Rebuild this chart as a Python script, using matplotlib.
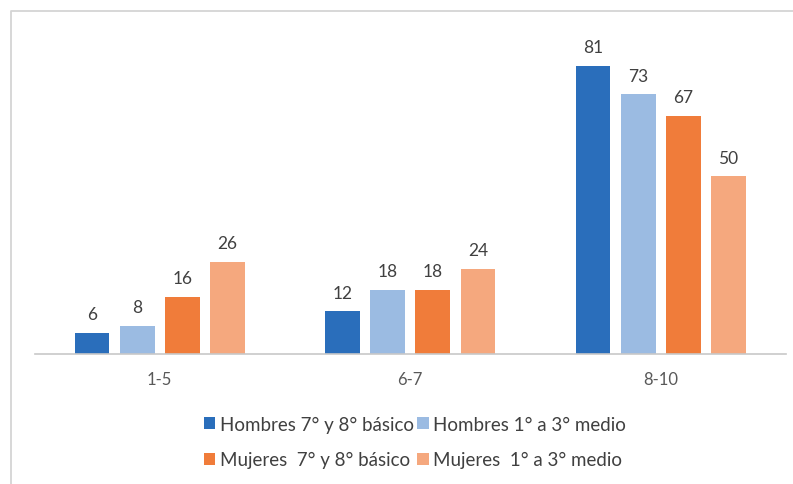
import matplotlib.pyplot as plt
import matplotlib.lines as mlines
import numpy as np

plt.rcParams['font.family'] = ['Lato', 'DejaVu Sans']

categories = ['1-5', '6-7', '8-10']
series = ['Hombres 7° y 8° básico', 'Hombres 1° a 3° medio',
          'Mujeres  7° y 8° básico', 'Mujeres  1° a 3° medio']
values = [
    [6, 12, 81],
    [8, 18, 73],
    [16, 18, 67],
    [26, 24, 50],
]
colors = ['#2a6ebb', '#9bbbe2', '#f07c3a', '#f5a87e']

fig = plt.figure(figsize=(7.93, 4.85), dpi=100)
# only the left and top edges of the chart frame are visible
fig.lines.append(mlines.Line2D([11 / 793, 11 / 793, 1], [0, 1 - 12 / 485, 1 - 12 / 485],
                               transform=fig.transFigure, color='#d4d4d4', linewidth=1.3))
ax = fig.add_axes([34.5 / 793, 130 / 485, 751.5 / 793, 320 / 485])

x = np.arange(len(categories))
pitch = 0.1805
width = 0.139
handles = []
for i, (name, vals, c) in enumerate(zip(series, values, colors)):
    pos = x + (i - 1.5) * pitch
    bars = ax.bar(pos, vals, width, color=c, label=name)
    handles.append(bars)
    for p, v in zip(pos, vals):
        ax.text(p, v + 3.0, str(v), ha='center', va='bottom', fontsize=12.5, color='#404040')

ax.set_xlim(-0.5, 2.5)
ax.set_ylim(0, 90)
ax.set_xticks(x)
ax.set_xticklabels(categories, fontsize=12, color='#595959')
ax.tick_params(axis='x', length=0, pad=12)
ax.set_yticks([])
for s in ['top', 'right', 'left']:
    ax.spines[s].set_visible(False)
ax.spines['bottom'].set_color('#c8c8c8')
ax.spines['bottom'].set_linewidth(1.2)

order = [0, 2, 1, 3]
fig.legend([handles[i] for i in order], [series[i] for i in order],
           loc='center', bbox_to_anchor=(415 / 793, 1 - 443 / 485), ncol=2,
           frameon=False, fontsize=13.5, labelcolor='#404040',
           handlelength=0.6, handleheight=0.6, handletextpad=0.25,
           columnspacing=0.2, labelspacing=1.0)

fig.savefig('out.png', dpi=100)
